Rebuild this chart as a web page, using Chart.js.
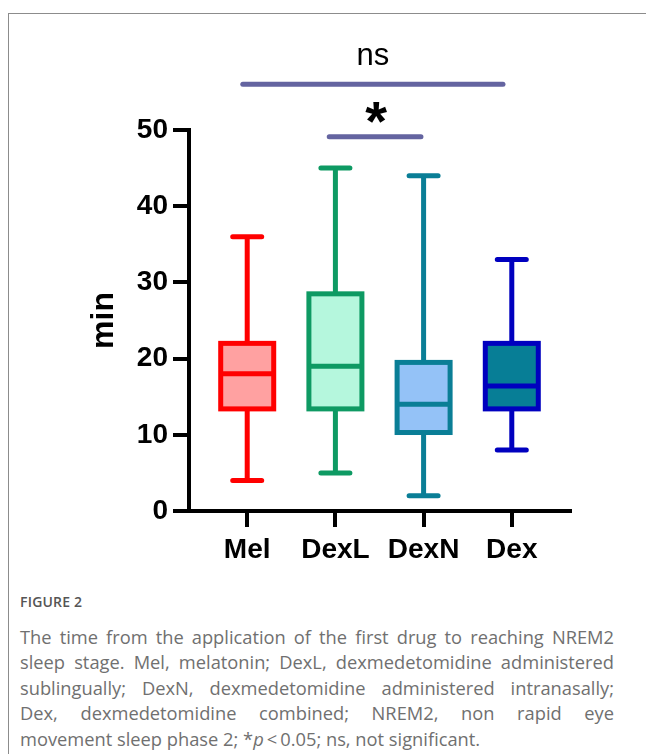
<!DOCTYPE html>
<html>
<head>
<meta charset="utf-8">
<script src="https://cdn.jsdelivr.net/npm/chart.js@4.4.0/dist/chart.umd.min.js"></script>
<style>
  html, body { margin: 0; padding: 0; background: #fff; overflow: hidden; }
  body { width: 646px; height: 754px; position: relative; font-family: "Open Sans", sans-serif; }
  #marco { position: absolute; left: 8px; top: 13px; width: 700px; height: 800px; border: 1px solid #8c8c8c; box-sizing: border-box; }
  #lienzo { position: absolute; left: 0; top: 0; }
  #etiqueta { position: absolute; left: 20px; top: 592px; font-size: 14px; font-weight: 600; color: #555; letter-spacing: 0.2px; }
  #leyenda { position: absolute; left: 20px; top: 624px; width: 594px; font-size: 18.3px; line-height: 25.4px; color: #707070; }
  #leyenda div { white-space: nowrap; text-align: justify; text-align-last: justify; }
  #leyenda div.ultima { text-align: left; text-align-last: left; }
</style>
</head>
<body>
<div id="marco"></div>
<canvas id="lienzo" width="646" height="580"></canvas>
<div id="etiqueta">FIGURE 2</div>
<div id="leyenda">
  <div>The time from the application of the first drug to reaching NREM2</div>
  <div>sleep stage. Mel, melatonin; DexL, dexmedetomidine administered</div>
  <div>sublingually; DexN, dexmedetomidine administered intranasally;</div>
  <div>Dex, dexmedetomidine combined; NREM2, non rapid eye</div>
  <div class="ultima">movement sleep phase 2; *<i>p</i>&thinsp;&lt;&thinsp;0.05; ns, not significant.</div>
</div>

<script>
// datos (min)
const grupos = ["Mel", "DexL", "DexN", "Dex"];
const minimos = [4, 5, 2, 8];
const cuartil1 = [13.4, 13.4, 10.3, 13.4];
const medianas = [18, 19, 14, 16.4];
const cuartil3 = [22, 28.5, 19.5, 22];
const maximos = [36, 45, 44, 33];
const ticksY = [0, 10, 20, 30, 40, 50];

// comparaciones entre grupos
const etiquetasComparacion = ["ns", "*"];
const comparacionDesde = [-0.05, 0.93];
const comparacionHasta = [2.9, 1.97];
const comparacionAltura = [56, 49.1];

const colorBorde = ["#ff0000", "#0e9a63", "#0a7e96", "#0000bf"];
const colorRelleno = ["#ffa1a1", "#b5f7dd", "#94c2f7", "#077e96"];
const anchoCaja = 53;
const grosor = 5;

const fuenteEjes = "'Liberation Sans', Arial, sans-serif";

const dibujarCajas = {
  id: "dibujarCajas",
  afterDatasetsDraw(chart) {
    const ctx = chart.ctx;
    const x = chart.scales.x;
    const y = chart.scales.y;
    ctx.save();
    grupos.forEach(function (grupo, i) {
      const cx = x.getPixelForValue(i);
      const mitad = anchoCaja / 2;
      const yMin = y.getPixelForValue(minimos[i]);
      const yQ1 = y.getPixelForValue(cuartil1[i]);
      const yMed = y.getPixelForValue(medianas[i]);
      const yQ3 = y.getPixelForValue(cuartil3[i]);
      const yMax = y.getPixelForValue(maximos[i]);
      ctx.strokeStyle = colorBorde[i];
      ctx.lineWidth = grosor;

      // bigotes
      ctx.lineCap = "butt";
      ctx.beginPath();
      ctx.moveTo(cx, yQ3);
      ctx.lineTo(cx, yMax);
      ctx.moveTo(cx, yQ1);
      ctx.lineTo(cx, yMin);
      ctx.stroke();

      ctx.lineCap = "round";
      ctx.beginPath();
      ctx.moveTo(cx - 14.5, yMax);
      ctx.lineTo(cx + 14.5, yMax);
      ctx.moveTo(cx - 14.5, yMin);
      ctx.lineTo(cx + 14.5, yMin);
      ctx.stroke();

      // caja y mediana
      ctx.lineCap = "butt";
      ctx.lineJoin = "miter";
      ctx.strokeRect(cx - mitad, yQ3, anchoCaja, yQ1 - yQ3);
      ctx.beginPath();
      ctx.moveTo(cx - mitad, yMed);
      ctx.lineTo(cx + mitad, yMed);
      ctx.stroke();
    });

    // barras de significancia
    etiquetasComparacion.forEach(function (texto, i) {
      const yb = y.getPixelForValue(comparacionAltura[i]);
      ctx.strokeStyle = "#6464a0";
      ctx.lineWidth = grosor;
      ctx.lineCap = "round";
      ctx.beginPath();
      ctx.moveTo(x.getPixelForValue(comparacionDesde[i]), yb);
      ctx.lineTo(x.getPixelForValue(comparacionHasta[i]), yb);
      ctx.stroke();

      const xm = (x.getPixelForValue(comparacionDesde[i]) + x.getPixelForValue(comparacionHasta[i])) / 2;
      ctx.fillStyle = "#000";
      ctx.textAlign = "center";
      if (texto === "*") {
        ctx.font = "bold 56px " + fuenteEjes;
        ctx.textBaseline = "alphabetic";
        ctx.fillText(texto, xm + 1, yb + 3);
      } else {
        ctx.font = "31px " + fuenteEjes;
        ctx.textBaseline = "middle";
        ctx.fillText(texto, xm, yb - 28);
      }
    });
    ctx.restore();
  }
};

const ctx = document.getElementById("lienzo").getContext("2d");
new Chart(ctx, {
  type: "bar",
  data: {
    datasets: [{
      data: grupos.map(function (g, i) {
        return { x: i, y: [cuartil1[i], cuartil3[i]] };
      }),
      backgroundColor: colorRelleno,
      borderWidth: 0,
      barThickness: anchoCaja
    }]
  },
  options: {
    responsive: false,
    animation: false,
    devicePixelRatio: 1,
    layout: { padding: { top: 130, right: 76, left: 0, bottom: 0 } },
    plugins: { legend: { display: false }, tooltip: { enabled: false } },
    scales: {
      x: {
        type: "linear",
        min: -0.66,
        max: 3.66,
        offset: false,
        afterBuildTicks: function (eje) {
          eje.ticks = grupos.map(function (g, i) { return { value: i }; });
        },
        afterFit: function (eje) { eje.height = 69; },
        border: { display: true, color: "#000", width: 4 },
        grid: { offset: false, drawOnChartArea: false, drawTicks: true, tickLength: 16, color: "#000", lineWidth: 4 },
        ticks: {
          padding: 6,
          color: "#000",
          font: { family: fuenteEjes, size: 28, weight: "bold" },
          callback: function (valor) { return grupos[valor]; }
        }
      },
      y: {
        min: 0,
        max: 50,
        afterBuildTicks: function (eje) {
          eje.ticks = ticksY.map(function (v) { return { value: v }; });
        },
        afterFit: function (eje) { eje.width = 189; },
        border: { display: true, color: "#000", width: 4 },
        grid: { drawOnChartArea: false, drawTicks: true, tickLength: 16, color: "#000", lineWidth: 4 },
        ticks: {
          padding: 5,
          color: "#000",
          font: { family: fuenteEjes, size: 28, weight: "bold" }
        },
        title: {
          display: true,
          text: "min",
          color: "#000",
          padding: { top: 85 },
          font: { family: fuenteEjes, size: 32, weight: "bold" }
        }
      }
    }
  },
  plugins: [dibujarCajas]
});
</script>
</body>
</html>
